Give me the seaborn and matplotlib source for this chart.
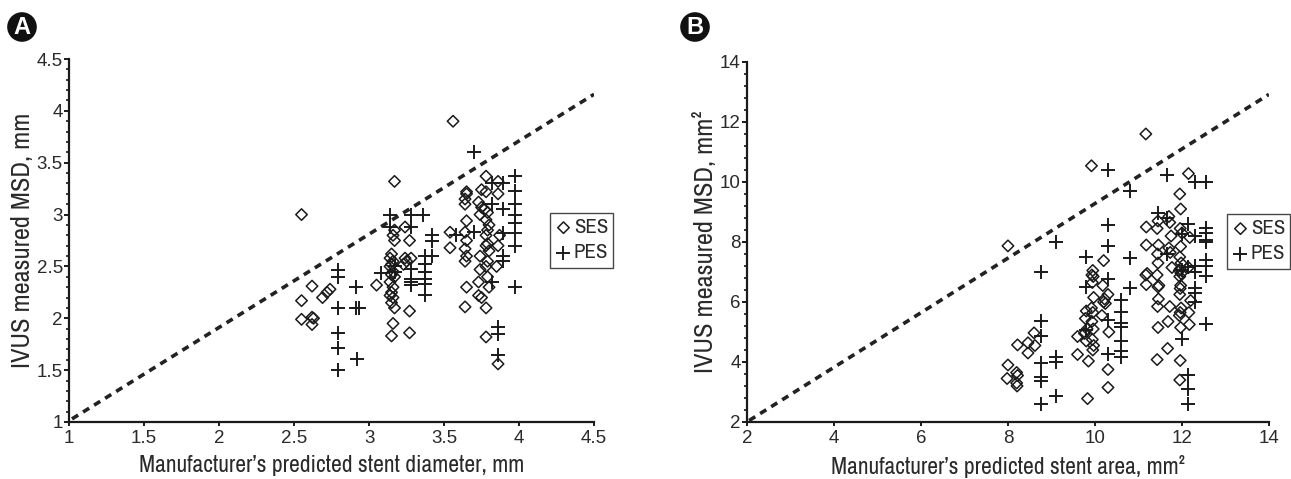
import matplotlib
matplotlib.use("Agg")
import matplotlib.pyplot as plt
from matplotlib.ticker import MultipleLocator, FormatStrFormatter
import seaborn as sns
import pandas as pd
from matplotlib import font_manager

# ---------------- data: panel A (diameter, mm) ----------------
ses_a_x = [2.55, 2.55, 2.55, 2.62, 2.62, 2.63, 2.62, 2.74, 2.72, 2.69, 3.05,
           3.17, 3.17, 3.16, 3.17, 3.15, 3.14, 3.16, 3.15, 3.14, 3.16, 3.15, 3.17, 3.14, 3.16, 3.15, 3.14, 3.16, 3.15, 3.17, 3.16, 3.15,
           3.24, 3.27, 3.24, 3.25, 3.23, 3.28, 3.27, 3.27,
           3.56, 3.54, 3.54,
           3.65, 3.65, 3.64, 3.64, 3.65, 3.64, 3.65, 3.64, 3.65, 3.64, 3.65, 3.64,
           3.78, 3.75, 3.78, 3.73, 3.75, 3.77, 3.79, 3.74, 3.78, 3.80, 3.79, 3.78, 3.79, 3.78, 3.80, 3.74, 3.79, 3.78, 3.74, 3.79, 3.73, 3.80, 3.73, 3.75, 3.78, 3.78,
           3.86, 3.86, 3.87, 3.86, 3.85, 3.86]
ses_a_y = [3.00, 2.17, 1.99, 2.31, 2.01, 2.00, 1.94, 2.28, 2.25, 2.20, 2.32,
           3.32, 2.85, 2.80, 2.75, 2.62, 2.58, 2.55, 2.52, 2.50, 2.45, 2.42, 2.40, 2.35, 2.30, 2.25, 2.22, 2.20, 2.15, 2.10, 1.95, 1.83,
           2.88, 2.75, 2.58, 2.55, 2.52, 2.58, 2.07, 1.86,
           3.90, 2.83, 2.68,
           3.22, 3.20, 3.15, 3.10, 2.94, 2.83, 2.75, 2.67, 2.60, 2.55, 2.30, 2.11,
           3.37, 3.24, 3.22, 3.12, 3.07, 3.05, 3.02, 3.00, 2.95, 2.90, 2.85, 2.80, 2.72, 2.70, 2.65, 2.60, 2.55, 2.50, 2.47, 2.40, 2.35, 2.30, 2.22, 2.20, 2.10, 1.82,
           3.32, 3.20, 2.80, 2.70, 2.50, 1.56]
pes_a_x = [2.79, 2.79, 2.79, 2.79, 2.79, 2.79,
           2.91, 2.91, 2.92, 2.93,
           3.08, 3.14, 3.14, 3.17, 3.17,
           3.28, 3.28, 3.28, 3.28, 3.28, 3.28, 3.36,
           3.37, 3.37, 3.37, 3.37, 3.37, 3.37,
           3.42, 3.42, 3.42,
           3.58, 3.70, 3.70,
           3.82, 3.82, 3.82,
           3.86, 3.86, 3.86,
           3.89, 3.89, 3.89, 3.89, 3.89,
           3.97, 3.97, 3.97, 3.97, 3.97, 3.97, 3.97, 3.97]
pes_a_y = [2.47, 2.40, 2.10, 1.86, 1.71, 1.50,
           2.30, 2.10, 1.61, 2.10,
           2.44, 3.00, 2.88, 2.50, 2.45,
           3.00, 2.88, 2.48, 2.38, 2.35, 2.32, 3.00,
           2.60, 2.52, 2.45, 2.38, 2.33, 2.22,
           2.80, 2.75, 2.60,
           2.80, 3.60, 2.83,
           3.30, 3.10, 2.35,
           1.92, 1.85, 1.65,
           3.30, 3.05, 2.82, 2.60, 2.55,
           3.37, 3.23, 3.10, 3.00, 2.92, 2.82, 2.70, 2.30]
ref_a_x = [1.02, 4.5]
ref_a_y = [1.03, 4.16]

# ---------------- data: panel B (area, mm2) ----------------
ses_b_x = [8.0, 8.0, 7.98,
           8.2, 8.22, 8.2, 8.21,
           8.22, 8.46, 8.46, 8.6, 8.62,
           9.6, 9.6,
           9.8, 9.78, 9.82, 9.76, 9.8, 9.85, 9.83,
           9.92, 9.95, 9.93, 9.96, 9.94, 9.97, 9.92, 9.95, 9.93, 9.96, 9.94, 9.97, 9.95,
           10.2, 10.18, 10.22, 10.2, 10.24, 10.16,
           10.3, 10.32, 10.3, 10.3,
           11.17, 11.18, 11.18, 11.2, 11.17, 11.18,
           11.45, 11.43, 11.46, 11.44, 11.45, 11.43, 11.47, 11.45, 11.46, 11.44, 11.45, 11.43,
           11.7, 11.72, 11.75, 11.7, 11.73, 11.77, 11.72, 11.68, 11.67,
           11.95, 11.97, 11.96, 12.0, 11.97, 11.95, 11.98, 11.96, 11.94, 11.98, 11.95, 11.97, 11.96, 11.95, 11.98, 11.96, 11.94, 11.97, 11.96, 11.95,
           12.15, 12.18, 12.15, 12.2, 12.16, 12.17]
ses_b_y = [7.87, 3.90, 3.45,
           3.65, 3.55, 3.30, 3.20,
           4.57, 4.64, 4.30, 4.97, 4.55,
           4.85, 4.25,
           5.70, 5.45, 5.10, 4.95, 4.70, 4.03, 2.78,
           10.54, 7.05, 6.90, 6.85, 6.65, 6.15, 5.80, 5.65, 5.35, 5.10, 4.75, 4.55, 4.40,
           7.38, 6.55, 6.10, 6.00, 5.95, 5.55,
           6.25, 5.00, 3.75, 3.15,
           11.60, 8.50, 7.90, 6.95, 6.90, 6.58,
           8.70, 8.45, 7.90, 7.60, 7.30, 6.90, 6.55, 6.50, 6.10, 5.85, 5.15, 4.08,
           8.85, 8.65, 8.20, 7.80, 7.65, 7.15, 5.85, 5.35, 4.45,
           9.60, 9.10, 8.45, 8.30, 7.85, 7.50, 7.30, 7.10, 7.05, 6.95, 6.85, 6.55, 6.45, 6.25, 5.80, 5.65, 5.55, 5.15, 4.05, 3.40,
           10.28, 8.15, 7.15, 6.05, 5.65, 5.25]
pes_b_x = [8.75, 8.75, 8.75, 8.75, 8.75, 8.75, 8.75,
           9.1, 9.1, 9.1, 9.1,
           9.8, 9.8, 9.8,
           10.3, 10.3, 10.3, 10.3, 10.3, 10.3,
           10.6, 10.6, 10.6, 10.6, 10.6, 10.6, 10.6,
           10.8, 10.8, 10.8,
           11.45,
           11.65, 11.65, 11.65,
           12.0, 12.0, 12.0,
           12.15, 12.15, 12.15, 12.15, 12.15,
           12.3, 12.3, 12.3, 12.3, 12.3, 12.3, 12.3,
           12.55, 12.55, 12.55, 12.55, 12.55, 12.55, 12.55, 12.55, 12.55]
pes_b_y = [7.00, 5.35, 4.85, 3.95, 3.50, 3.35, 2.60,
           8.00, 4.15, 4.00, 2.85,
           7.50, 6.50, 5.05,
           10.40, 8.55, 7.85, 6.75, 5.40, 4.25,
           6.05, 5.65, 5.30, 5.15, 4.70, 4.35, 4.15,
           9.70, 7.45, 6.45,
           8.95,
           10.22, 8.80, 7.60,
           8.25, 7.05, 4.75,
           8.60, 7.15, 3.55, 3.10, 2.60,
           10.00, 8.20, 7.20, 7.00, 6.45, 6.30, 6.00,
           10.00, 8.45, 8.30, 8.05, 8.00, 7.40, 7.20, 6.85, 5.25]
ref_b_x = [2.05, 14.0]
ref_b_y = [2.05, 12.92]

groups = ["SES", "PES"]
panel_letters = ["A", "B"]
xlabels = ["Manufacturer\u2019s predicted stent diameter, mm",
           "Manufacturer\u2019s predicted stent area, mm\u00b2"]
ylabels = ["IVUS measured MSD, mm", "IVUS measured MSD, mm\u00b2"]

# ---------------- style ----------------
sns.set_theme(style="ticks")
names = {f.name for f in font_manager.fontManager.ttflist}
narrow = "Liberation Sans"
for cand in ["Liberation Sans Narrow", "Arial Narrow", "Archivo Narrow",
             "Roboto Condensed", "PT Sans Narrow", "Asap Condensed"]:
    if cand in names:
        narrow = cand
        break
regular = "Liberation Sans" if "Liberation Sans" in names else "Arimo"
plt.rcParams["font.family"] = [regular, "DejaVu Sans"]

TXT = "#2a2a2a"
INK = "#1a1a1a"

fig = plt.figure(figsize=(12.91, 4.79), dpi=100)
axA = fig.add_axes([0.05345, 0.119, 0.4067, 0.7578])
axB = fig.add_axes([0.5786, 0.119, 0.4043, 0.7516])


def make_df(sx, sy, px, py):
    return pd.DataFrame({
        "x": list(sx) + list(px),
        "y": list(sy) + list(py),
        "group": [groups[0]] * len(sx) + [groups[1]] * len(px),
    })


dfA = make_df(ses_a_x, ses_a_y, pes_a_x, pes_a_y)
dfB = make_df(ses_b_x, ses_b_y, pes_b_x, pes_b_y)


def draw(ax, df, refx, refy, lim, major, minor, leg_anchor, xlabel, ylabel):
    ses = df[df.group == "SES"]
    pes = df[df.group == "PES"]
    sns.scatterplot(data=ses, x="x", y="y", ax=ax, marker="D", s=34,
                    facecolor="none", edgecolor=INK, linewidth=1.1,
                    label="SES", zorder=3)
    sns.scatterplot(data=pes, x="x", y="y", ax=ax, marker="+", s=110,
                    color=INK, linewidth=1.4, label="PES", zorder=3)
    sns.lineplot(x=refx, y=refy, ax=ax, color="#222222", linewidth=2.6,
                 linestyle=(0, (2.0, 1.6)), zorder=2)
    ax.set_xlim(*lim)
    ax.set_ylim(*lim)
    ax.xaxis.set_major_locator(MultipleLocator(major))
    ax.yaxis.set_major_locator(MultipleLocator(major))
    ax.yaxis.set_minor_locator(MultipleLocator(minor))
    ax.xaxis.set_major_formatter(FormatStrFormatter("%g"))
    ax.yaxis.set_major_formatter(FormatStrFormatter("%g"))
    sns.despine(ax=ax)
    for sp in ["left", "bottom"]:
        ax.spines[sp].set_color(INK)
        ax.spines[sp].set_linewidth(1.6)
    ax.tick_params(axis="x", which="major", direction="out", length=3,
                   width=1.4, color=INK, labelsize=13.5, pad=2.5,
                   labelcolor=TXT)
    ax.tick_params(axis="y", which="major", direction="out", length=3.5,
                   width=1.4, color=INK, labelsize=13.5, pad=1,
                   labelcolor=TXT)
    ax.tick_params(axis="y", which="minor", direction="out", length=2.2,
                   width=1.2, color=INK)
    ax.set_xlabel(xlabel, fontsize=17, family=[narrow, "DejaVu Sans"],
                  color=TXT, labelpad=6)
    ax.set_ylabel(ylabel, fontsize=19, family=[narrow, "DejaVu Sans"],
                  color=TXT, labelpad=2)
    leg = ax.legend(loc="upper left", bbox_to_anchor=leg_anchor,
                    frameon=True, fancybox=False,
                    handletextpad=0.1, handlelength=0.8, borderpad=0.25,
                    labelspacing=0.3, borderaxespad=0,
                    prop={"family": [narrow, "DejaVu Sans"], "size": 15})
    leg.get_frame().set_edgecolor(INK)
    leg.get_frame().set_linewidth(1.0)
    for t in leg.get_texts():
        t.set_color(TXT)
    ax.set_facecolor("white")


draw(axA, dfA, ref_a_x, ref_a_y, (1, 4.5), 0.5, 0.1, (0.916, 0.576),
     xlabels[0], ylabels[0])
draw(axB, dfB, ref_b_x, ref_b_y, (2, 14), 2, 0.4, (0.9195, 0.578),
     xlabels[1], ylabels[1])

for xpos, letter in zip([22 / 1291, 695 / 1291], panel_letters):
    fig.text(xpos, 1 - 27 / 479, letter, ha="center", va="center",
             fontsize=17, fontweight="bold", color="white",
             bbox=dict(boxstyle="circle,pad=0.14", fc="#111111", ec="none"))

fig.savefig("out.png", dpi=100, facecolor="white")
